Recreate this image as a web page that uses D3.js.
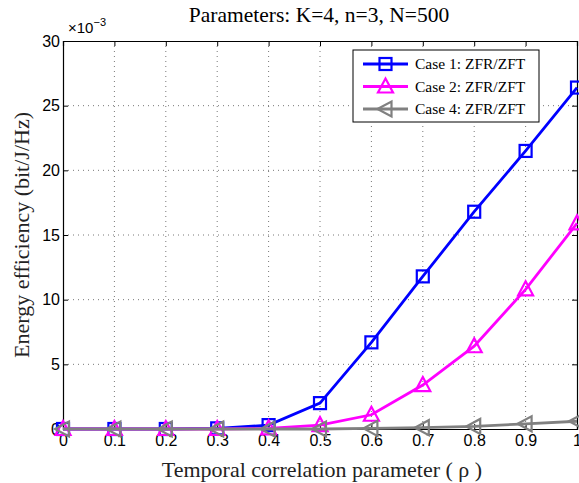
<!DOCTYPE html>
<html>
<head>
<meta charset="utf-8">
<script src="https://cdn.jsdelivr.net/npm/d3@7"></script>
<style>
  body { margin: 0; background: #fff; }
  svg { display: block; }
</style>
</head>
<body>
<div id="chart"></div>
<script>
// Data (energy efficiency in units of 1e-3 bit/J/Hz)
const rho = [0, 0.1, 0.2, 0.3, 0.4, 0.5, 0.6, 0.7, 0.8, 0.9, 1];
const case1 = [0, 0, 0, 0.05, 0.3, 2.0, 6.7, 11.8, 16.8, 21.5, 26.4];
const case2 = [0, 0, 0, 0, 0.05, 0.3, 1.1, 3.4, 6.4, 10.8, 15.9];
const case4 = [0, 0, 0, 0, 0, 0, 0.05, 0.1, 0.2, 0.4, 0.6];
const seriesNames = ["Case 1: ZFR/ZFT", "Case 2: ZFR/ZFT", "Case 4: ZFR/ZFT"];
const xTicks = [0, 0.1, 0.2, 0.3, 0.4, 0.5, 0.6, 0.7, 0.8, 0.9, 1];
const yTicks = [0, 5, 10, 15, 20, 25, 30];

const W = 579, H = 483;
const margin = { top: 41, right: 2, bottom: 54, left: 63 };
const width = W - margin.left - margin.right;
const height = H - margin.top - margin.bottom;

const svg = d3.select("#chart").append("svg")
  .attr("width", W).attr("height", H);
const g = svg.append("g").attr("transform", `translate(${margin.left},${margin.top})`);

const x = d3.scaleLinear().domain([0, 1]).range([0, width]);
const y = d3.scaleLinear().domain([0, 30]).range([height, 0]);

// grid
g.append("g").selectAll("line").data(xTicks.slice(1, -1)).join("line")
  .attr("x1", d => x(d)).attr("x2", d => x(d)).attr("y1", 0).attr("y2", height)
  .attr("stroke", "#555").attr("stroke-width", 0.8).attr("stroke-dasharray", "1,4");
g.append("g").selectAll("line").data(yTicks.slice(1, -1)).join("line")
  .attr("y1", d => y(d)).attr("y2", d => y(d)).attr("x1", 0).attr("x2", width)
  .attr("stroke", "#555").attr("stroke-width", 0.8).attr("stroke-dasharray", "1,4");

// axes
const tickFont = "'Liberation Sans', Arial, sans-serif";
const xAxis = g.append("g").attr("transform", `translate(0,${height})`)
  .call(d3.axisBottom(x).tickValues(xTicks).tickFormat(d => d === 0 || d === 1 ? d3.format("d")(d) : d3.format(".1f")(d)).tickSize(-5).tickPadding(6));
const yAxis = g.append("g")
  .call(d3.axisLeft(y).tickValues(yTicks).tickFormat(d3.format("d")).tickSize(-5).tickPadding(3));
g.append("g").call(d3.axisTop(x).tickValues(xTicks).tickFormat("").tickSize(-5));
g.append("g").attr("transform", `translate(${width},0)`)
  .call(d3.axisRight(y).tickValues(yTicks).tickFormat("").tickSize(-5));
g.selectAll(".domain").attr("stroke", "#000").attr("stroke-width", 1.2);
g.selectAll(".tick line").attr("stroke", "#000");
[xAxis, yAxis].forEach(a => a.selectAll("text")
  .attr("font-family", tickFont).attr("font-size", 16).attr("fill", "#000"));

// exponent label
const ex = svg.append("text").attr("x", margin.left + 5).attr("y", 33)
  .attr("font-family", tickFont).attr("font-size", 15);
ex.append("tspan").text("\u00d710");
ex.append("tspan").attr("dy", -7).attr("font-size", 11).text("\u22123");

// title and labels
const serif = "'Liberation Serif', 'Times New Roman', serif";
svg.append("text").attr("x", 319).attr("y", 22).attr("text-anchor", "middle")
  .attr("font-family", serif).attr("font-size", 21.5).text("Parameters: K=4, n=3, N=500");
svg.append("text").attr("x", 322).attr("y", 477).attr("text-anchor", "middle")
  .attr("font-family", serif).attr("font-size", 22).attr("fill", "#222")
  .text("Temporal correlation parameter ( \u03c1 )");
svg.append("text").attr("transform", `translate(29,${margin.top + height / 2}) rotate(-90)`)
  .attr("text-anchor", "middle").attr("font-family", serif).attr("font-size", 22).attr("fill", "#222")
  .text("Energy efficiency (bit/J/Hz)");

// markers
function marker(sel, type, color) {
  if (type === "square") {
    sel.append("rect").attr("x", -6).attr("y", -6).attr("width", 12).attr("height", 12)
      .attr("fill", "none").attr("stroke", color).attr("stroke-width", 2.2);
  } else if (type === "up") {
    sel.append("path").attr("d", "M0,-8 L7.5,6 L-7.5,6 Z")
      .attr("fill", "none").attr("stroke", color).attr("stroke-width", 2.2);
  } else {
    sel.append("path").attr("d", "M-8,0 L6,-7.5 L6,7.5 Z")
      .attr("fill", "none").attr("stroke", color).attr("stroke-width", 2.2);
  }
}

const series = [
  { name: seriesNames[0], values: case1, color: "#0000ff", type: "square" },
  { name: seriesNames[1], values: case2, color: "#ff00ff", type: "up" },
  { name: seriesNames[2], values: case4, color: "#808080", type: "left" }
];

const line = d3.line().x((d, i) => x(rho[i])).y(d => y(d));
series.forEach(s => {
  g.append("path").datum(s.values).attr("d", line)
    .attr("fill", "none").attr("stroke", s.color).attr("stroke-width", 2.8);
  g.append("g").selectAll("g").data(s.values).join("g")
    .attr("transform", (d, i) => `translate(${x(rho[i])},${y(d)})`)
    .each(function() { marker(d3.select(this), s.type, s.color); });
});

// legend
const lg = svg.append("g").attr("transform", "translate(353,50)");
lg.append("rect").attr("width", 186).attr("height", 72)
  .attr("fill", "#fff").attr("stroke", "#000").attr("stroke-width", 1);
series.forEach((s, i) => {
  const yy = 14 + i * 22.5;
  lg.append("line").attr("x1", 10).attr("x2", 55).attr("y1", yy).attr("y2", yy)
    .attr("stroke", s.color).attr("stroke-width", 2.8);
  marker(lg.append("g").attr("transform", `translate(32.5,${yy})`), s.type, s.color);
  lg.append("text").attr("x", 62).attr("y", yy + 5)
    .attr("font-family", serif).attr("font-size", 15.5).text(s.name);
});
</script>
</body>
</html>
